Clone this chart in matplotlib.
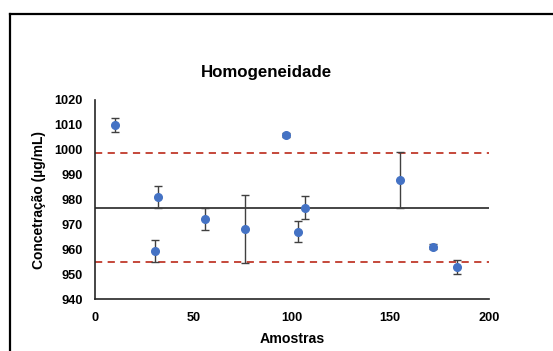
import matplotlib
matplotlib.use("Agg")
import matplotlib.pyplot as plt
from matplotlib.lines import Line2D

# Homogeneity study: concentration per sample with standard deviations
amostras = [10.0, 32.0, 30.7, 56.0, 76.0, 97.0, 103.1, 106.9, 155.1, 171.9, 184.1]
concentracao = [1010.0, 981.0, 959.4, 972.3, 968.3, 1006.1, 967.1, 976.8, 987.9, 961.0, 952.8]
desvio = [2.8, 4.5, 4.3, 4.5, 13.7, 0.8, 4.3, 4.6, 11.4, 1.0, 2.8]

media = 976.7
limite_superior = 998.6
limite_inferior = 954.8

x_ticks = [0, 50, 100, 150, 200]
y_ticks = [940, 950, 960, 970, 980, 990, 1000, 1010, 1020]

plt.rcParams["font.family"] = ["Liberation Sans", "DejaVu Sans"]

fig = plt.figure(figsize=(5.53, 3.51), dpi=100)
ax = fig.add_axes([95 / 553, 1 - 299.3 / 351, (488.7 - 95) / 553, (299.3 - 100) / 351])

# reference lines: mean and control limits
ax.plot([0, 200], [media, media], color="#262626", lw=1.2, zorder=2)
ax.plot([0, 200], [limite_superior, limite_superior], color="#C0392B",
        lw=1.3, dashes=(4, 3), zorder=2)
ax.plot([0, 200], [limite_inferior, limite_inferior], color="#C0392B",
        lw=1.3, dashes=(4, 3), zorder=2)

ax.errorbar(amostras, concentracao, yerr=desvio, fmt="o", color="#4472C4",
            markersize=5.5, ecolor="#404040", elinewidth=1.0, capsize=2.8,
            capthick=1.0, zorder=3)

ax.set_xlim(0, 200)
ax.set_ylim(940, 1020)
ax.set_xticks(x_ticks)
ax.set_yticks(y_ticks)
ax.tick_params(length=0, labelsize=9.2, pad=9)
for lab in ax.get_xticklabels() + ax.get_yticklabels():
    lab.set_fontweight("bold")

for side in ("top", "right"):
    ax.spines[side].set_visible(False)
for side in ("left", "bottom"):
    ax.spines[side].set_color("#262626")
    ax.spines[side].set_linewidth(1.2)

ax.set_xlabel("Amostras", fontsize=10.2, fontweight="bold", labelpad=6)
ax.set_ylabel("Concetração (µg/mL)", fontsize=10, fontweight="bold", labelpad=6)
fig.text(266 / 553, 1 - 72 / 351, "Homogeneidade",
         ha="center", va="center", fontsize=12.2, fontweight="bold")

# outer frame: top and left edges
fig.add_artist(Line2D([10.3 / 553, 1.0], [1 - 13.5 / 351, 1 - 13.5 / 351],
                      transform=fig.transFigure, color="black", lw=1.6))
fig.add_artist(Line2D([10.3 / 553, 10.3 / 553], [0, 1 - 13.5 / 351],
                      transform=fig.transFigure, color="black", lw=1.6))

fig.savefig("out.png", dpi=100)
